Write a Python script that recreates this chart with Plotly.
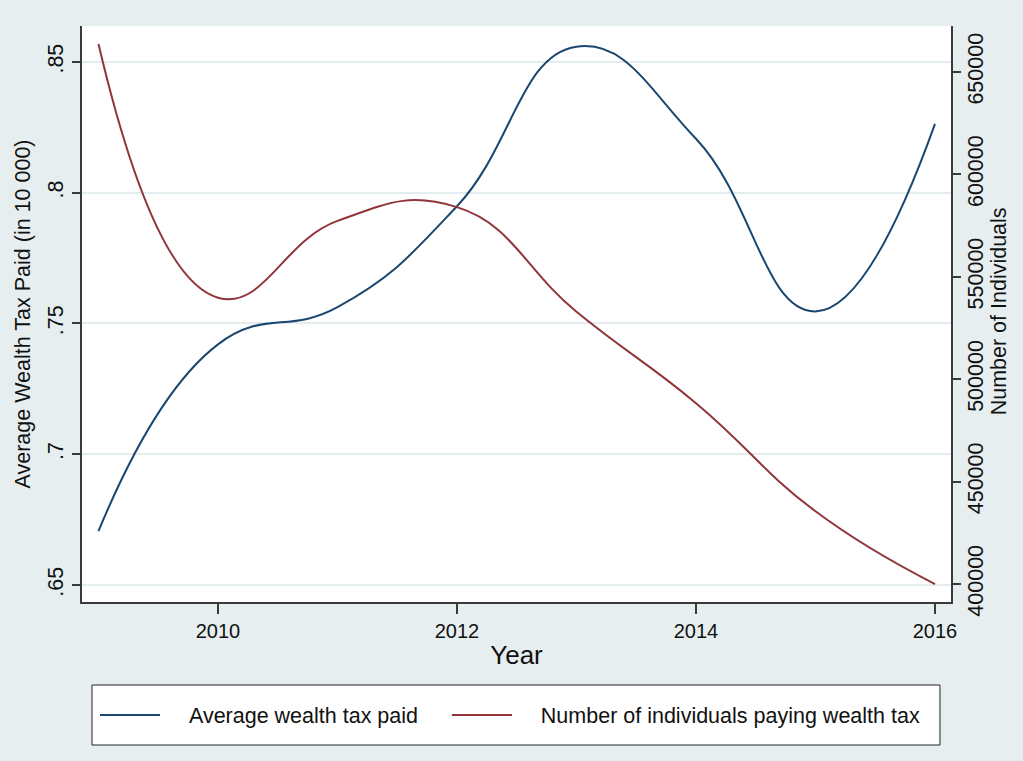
import plotly.graph_objects as go

# Yearly series
years = [2009, 2010, 2011, 2012, 2013, 2014, 2015, 2016]
avg_tax_paid = [0.6706, 0.7420, 0.7562, 0.7948, 0.8558, 0.8206, 0.7546, 0.8263]
n_individuals = [663700, 539800, 577300, 584000, 532900, 488300, 435500, 400000]

left_ticks = [0.65, 0.70, 0.75, 0.80, 0.85]
left_labels = [".65", ".7", ".75", ".8", ".85"]
right_ticks = [400000, 450000, 500000, 550000, 600000, 650000]
right_labels = [str(v) for v in right_ticks]
x_ticks = [2010, 2012, 2014, 2016]

NAVY = "#1a476f"
MAROON = "#90353b"
BG = "#e6eef0"
GRID = "#e3ecee"
AXIS = "#3a3a3a"
FONT = "Liberation Sans, Arial, sans-serif"
NB = "\u00a0"  # non-breaking space, used to space out legend entries

fig = go.Figure()
fig.add_trace(go.Scatter(
    x=years, y=avg_tax_paid, name=NB * 4 + "Average wealth tax paid" + NB * 4,
    mode="lines", line=dict(color=NAVY, width=2, shape="spline", smoothing=1.3),
    yaxis="y",
))
fig.add_trace(go.Scatter(
    x=years, y=n_individuals, name=NB * 4 + "Number of individuals paying wealth tax",
    mode="lines", line=dict(color=MAROON, width=2, shape="spline", smoothing=1.3),
    yaxis="y2",
))

# legend frame below the plot
fig.add_shape(
    type="rect", xref="paper", yref="paper",
    x0=0.0115, x1=0.9873, y0=-0.2483, y1=-0.1441,
    fillcolor="white", line=dict(color="#222222", width=1), layer="above",
)

# right axis title
fig.add_annotation(
    text="Number of Individuals", xref="paper", yref="paper",
    x=1.0555, y=0.505, xanchor="center", yanchor="middle",
    textangle=-90, showarrow=False, font=dict(size=21.5, family=FONT),
)

fig.update_layout(
    width=1023, height=761,
    margin=dict(l=82, r=72, t=26, b=159),
    paper_bgcolor=BG, plot_bgcolor="white",
    font=dict(family=FONT, color="#111111"),
    showlegend=True,
    legend=dict(
        orientation="h", x=0.0150, xanchor="left", y=-0.1962, yanchor="middle",
        bgcolor="rgba(0,0,0,0)", borderwidth=0,
        font=dict(size=21.5, family=FONT), itemwidth=60,
    ),
    xaxis=dict(
        range=[2008.862, 2016.134], tickvals=x_ticks, ticktext=[str(t) for t in x_ticks],
        showgrid=False, zeroline=False, showline=True, linecolor=AXIS, linewidth=1.5,
        ticks="outside", ticklen=10, tickwidth=1.5, tickcolor=AXIS,
        tickfont=dict(size=20, family=FONT), automargin=False,
        title=dict(text="Year", font=dict(size=26, family=FONT), standoff=5),
    ),
    yaxis=dict(
        range=[0.6435, 0.8637], tickvals=left_ticks, ticktext=left_labels,
        tickangle=-90, showgrid=True, gridcolor=GRID, gridwidth=1.5,
        zeroline=False, showline=True, linecolor=AXIS, linewidth=1.5,
        ticks="outside", ticklen=8, tickwidth=1.5, tickcolor=AXIS,
        ticklabelstandoff=1, automargin=False,
        tickfont=dict(size=21.5, family=FONT),
        title=dict(text="Average Wealth Tax Paid (in 10 000)", font=dict(size=21.5, family=FONT), standoff=7),
    ),
    yaxis2=dict(
        range=[391220, 672439], tickvals=right_ticks, ticktext=right_labels,
        overlaying="y", side="right", tickangle=-90, showgrid=False,
        zeroline=False, showline=True, linecolor=AXIS, linewidth=1.5,
        ticks="outside", ticklen=8, tickwidth=1.5, tickcolor=AXIS,
        ticklabelstandoff=-4, automargin=False,
        tickfont=dict(size=21.5, family=FONT),
    ),
)

fig.write_html("out.html")
